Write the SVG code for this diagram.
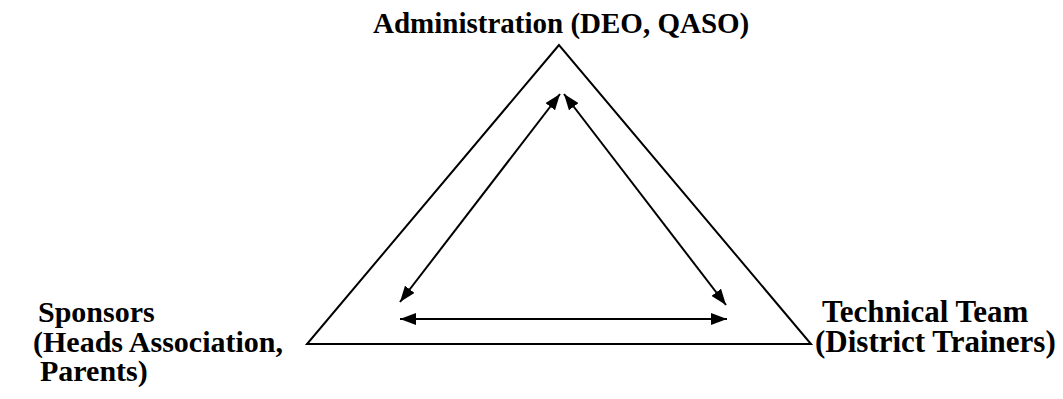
<svg xmlns="http://www.w3.org/2000/svg" width="1063" height="399" viewBox="0 0 1063 399">
  <defs>
    <style>
      .lbl { font-family: "Liberation Serif", "Times New Roman", serif; font-weight: bold; font-size: 30px; fill: #000; }
      .edge { stroke: #000; stroke-width: 2; fill: none; }
      .tri { stroke: #000; stroke-width: 2; fill: none; stroke-linejoin: miter; }
    </style>
    <marker id="ah" viewBox="0 0 16 12" refX="16" refY="6" markerWidth="16" markerHeight="12" markerUnits="userSpaceOnUse" orient="auto-start-reverse">
      <path d="M0,0 L16,6 L0,12 Z" fill="#000"/>
    </marker>
  </defs>
  <rect width="1063" height="399" fill="#fff"/>
  <g id="triangle">
    <polygon class="tri" points="559,45 307,344 811,344"/>
  </g>
  <g id="node-admin">
    <text class="lbl" x="373" y="33" style="font-size:29px">Administration (DEO, QASO)</text>
  </g>
  <g id="node-sponsors">
    <text class="lbl" x="38" y="322">Sponsors</text>
    <text class="lbl" x="33" y="352">(Heads Association,</text>
    <text class="lbl" x="40" y="381">Parents)</text>
  </g>
  <g id="node-technical">
    <text class="lbl" x="822" y="322" style="font-size:31px">Technical Team</text>
    <text class="lbl" x="815" y="352" style="font-size:31px">(District Trainers)</text>
  </g>
  <g id="connectors">
    <line class="edge" x1="400" y1="302" x2="560" y2="94" marker-start="url(#ah)" marker-end="url(#ah)"/>
    <line class="edge" x1="564" y1="94" x2="726" y2="305" marker-start="url(#ah)" marker-end="url(#ah)"/>
    <line class="edge" x1="400" y1="319" x2="727" y2="319" marker-start="url(#ah)" marker-end="url(#ah)"/>
  </g>
</svg>
